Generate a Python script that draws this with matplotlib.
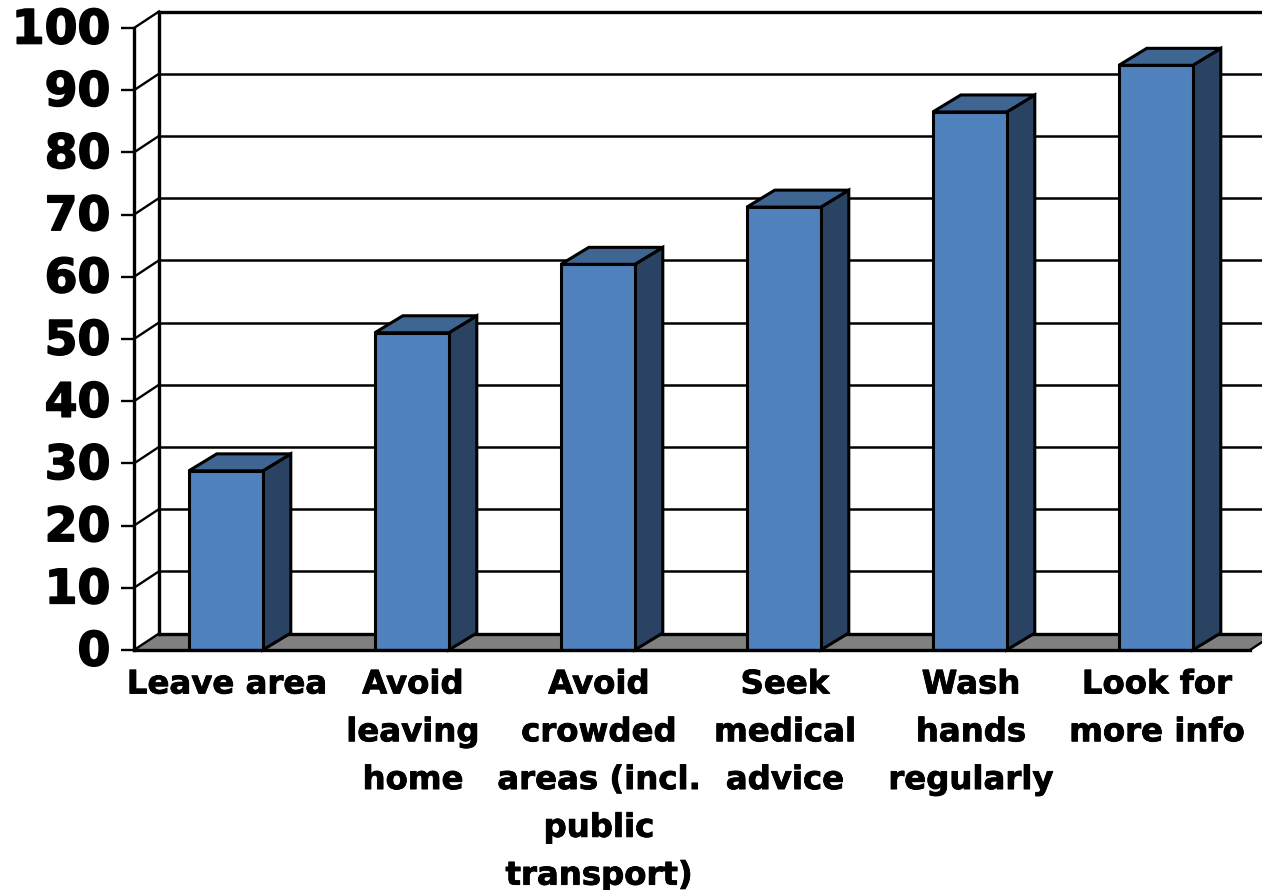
import matplotlib
matplotlib.use("Agg")
import matplotlib.pyplot as plt
import matplotlib.patheffects as pe
from matplotlib.patches import Polygon
from matplotlib.transforms import ScaledTranslation

categories = ["Leave area", "Avoid\nleaving\nhome", "Avoid\ncrowded\nareas (incl.\npublic\ntransport)",
              "Seek\nmedical\nadvice", "Wash\nhands\nregularly", "Look for\nmore info"]
values = [28.8, 51.0, 62.0, 71.2, 86.5, 94.0]
y_ticks = list(range(0, 101, 10))

W, H = 1262, 890
BLUE, SIDE, TOP, FLOOR = "#4F81BD", "#2A4362", "#3F6592", "#808080"

fig = plt.figure(figsize=(W / 100, H / 100), dpi=100, facecolor="white")
ax = fig.add_axes([134 / W, 1 - 650 / H, (1250 - 134) / W, (650 - 28) / H])
ax.set_xlim(-0.5, 5.5)
ax.set_ylim(0, 100)
ax.patch.set_visible(False)

sx = 6 / (1250 - 134)
sy = 100 / (650 - 28)
wall_dx, wall_dy = 25 * sx, 16.5 * sy
bar_dx, bar_dy = 28 * sx, 17 * sy
bar_w = 74 * sx
bar_shift = -1.2 * sx
xl, xr = ax.get_xlim()
lw = dict(color="black", clip_on=False, solid_capstyle="projecting")

# floor
ax.add_patch(Polygon([(xl, 0), (xl + wall_dx, wall_dy), (xr + wall_dx, wall_dy), (xr, 0)],
                     closed=True, facecolor=FLOOR, edgecolor="none", clip_on=False, zorder=1))
# back wall and gridlines
for t in y_ticks:
    width = 2.4 if t in (0, 100) else 1.8
    ax.plot([xl, xl + wall_dx], [t, t + wall_dy], lw=1.7, zorder=2, **lw)
    ax.plot([xl + wall_dx, xr + wall_dx], [t + wall_dy, t + wall_dy], lw=width, zorder=2, **lw)
ax.plot([xl + wall_dx, xl + wall_dx], [wall_dy, 100 + wall_dy], lw=2.4, zorder=2, **lw)
ax.plot([xr, xr + wall_dx], [0, wall_dy], lw=1.7, zorder=2, **lw)

# bars
edge = dict(edgecolor="black", linewidth=2.2, joinstyle="miter", clip_on=False, zorder=4)
for i, v in enumerate(values):
    c = i + bar_shift
    l, r = c - bar_w / 2, c + bar_w / 2
    ax.add_patch(Polygon([(r, 0), (r + bar_dx, bar_dy), (r + bar_dx, v + bar_dy), (r, v)],
                         closed=True, facecolor=SIDE, **edge))
    ax.add_patch(Polygon([(l, v), (l + bar_dx, v + bar_dy), (r + bar_dx, v + bar_dy), (r, v)],
                         closed=True, facecolor=TOP, **edge))
    ax.bar(c, v, width=bar_w, color=BLUE, edgecolor="black", linewidth=2.2, zorder=5, clip_on=False)

for s in ("top", "right"):
    ax.spines[s].set_visible(False)
for s in ("left", "bottom"):
    ax.spines[s].set_linewidth(2.4)
    ax.spines[s].set_zorder(6)

ax.set_yticks(y_ticks)
ax.set_yticklabels([str(t) for t in y_ticks], fontsize=34, fontweight="bold", family="DejaVu Sans")
ax.tick_params(axis="y", length=9.5, width=1.7, pad=7.5)
for lab in ax.get_yticklabels():
    lab.set_path_effects([pe.withStroke(linewidth=1.2, foreground="black")])
    lab.set_transform(lab.get_transform() + ScaledTranslation(0, 0.02, fig.dpi_scale_trans))

ax.set_xticks(range(len(categories)))
ax.set_xticklabels(categories, fontsize=23.3, fontweight="bold", family="DejaVu Sans",
                   linespacing=1.70, ha="center", va="top")
ax.tick_params(axis="x", length=0, pad=14)
for lab in ax.get_xticklabels():
    lab.set_path_effects([pe.withStroke(linewidth=0.6, foreground="black")])

fig.savefig("out.png", dpi=100)
